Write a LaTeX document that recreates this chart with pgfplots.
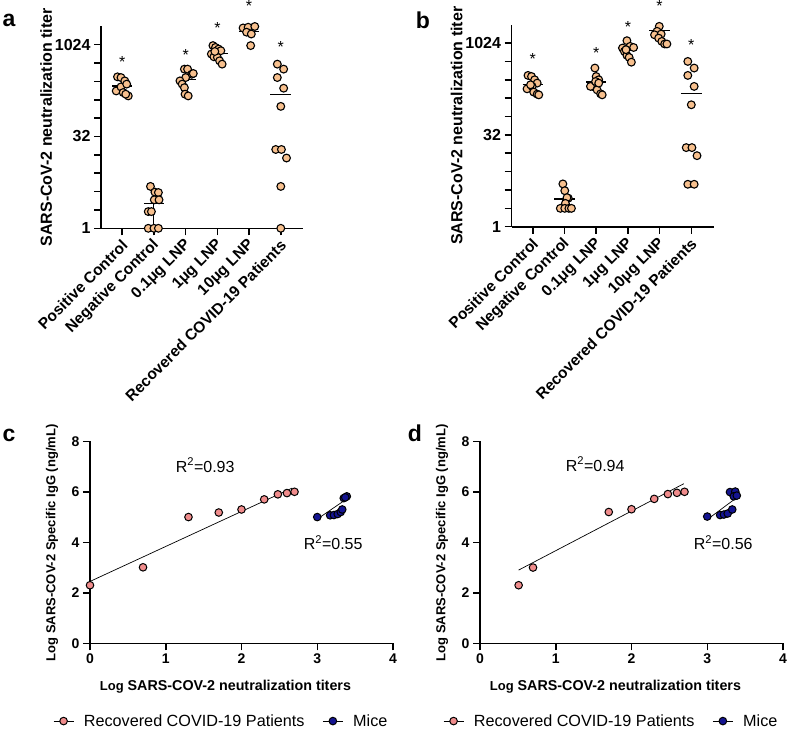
\documentclass[border=0pt]{standalone}
\usepackage{fontspec}
\setmainfont{Liberation Sans}
\usepackage{pgfplots}
\pgfplotsset{compat=1.18}
\definecolor{peach}{RGB}{247,192,142}
\definecolor{pinkc}{RGB}{240,140,140}
\definecolor{navyc}{RGB}{20,20,145}
\pgfplotsset{
  ptdots/.style={only marks, mark=*, mark size=3.9pt, mark options={fill=peach, draw=black, line width=1.1pt}},
  meanlines/.style={black, line width=1.4pt, unbounded coords=jump},
  pat/.style={only marks, mark=*, mark size=3.8pt, mark options={fill=pinkc, draw=black, line width=1pt}},
  mic/.style={only marks, mark=*, mark size=3.8pt, mark options={fill=navyc, draw=black, line width=1pt}},
}
\newcommand{\lgf}{\fontsize{16.2}{19}\selectfont}
\begin{document}
\begin{tikzpicture}
\useasboundingbox (0pt,0pt) rectangle (787pt,-730pt);
\node[font=\bfseries\fontsize{23}{23}\selectfont] at (9pt,-20pt) {a};
\node[font=\bfseries\fontsize{23}{23}\selectfont] at (423pt,-20pt) {b};
\node[font=\bfseries\fontsize{23}{23}\selectfont] at (9pt,-435pt) {c};
\node[font=\bfseries\fontsize{23}{23}\selectfont] at (415pt,-433pt) {d};
% ---------------- panel a
\begin{axis}[ymode=log, log basis y=2,
    scale only axis, width=202pt, height=202pt,
    axis lines=left, axis line style={line width=1.6pt,-},
    tick style={line width=1.5pt, black},
    tick align=outside, major tick length=7pt,
    xmin=-0.67, xmax=5.70, ymin=1, ymax=2048,
    ytick={1,2,4,8,16,32,64,128,256,512,1024}, yticklabels={1,,,,,32,,,,,1024},
    xtick={0,...,5},
    xticklabels={Positive Control, Negative Control, 0.1μg LNP, 1μg LNP, 10μg LNP, Recovered COVID-19 Patients},
    xticklabel style={xshift=5pt, yshift=-5pt, rotate=45, anchor=east, font=\bfseries\fontsize{15.5}{16}\selectfont},
    yticklabel style={font=\bfseries\fontsize{16}{16}\selectfont},
    clip=false,
    ylabel={SARS-CoV-2 neutralization titer},
    ylabel style={at={(axis description cs:-0.272,0.5)}, anchor=center, font=\bfseries\fontsize{16}{16}\selectfont},
    at={(101pt,-228.3pt)}, anchor=south west]
\addplot[black, line width=1pt] coordinates {(1,1) (1,4)};
\addplot[ptdots] coordinates {
(-0.15,304) (-0.04,296) (0.08,261) (-0.19,178.5) (-0.04,208) (0.14,231) (0.03,168) (0.19,148) (0.11,158)
(0.89,4.86) (1.03,3.92) (1.14,3.86) (1.01,2.93) (1.16,2.93) (0.82,1.88) (0.92,1.88) (0.82,1) (1.0,1) (1.14,1)
(1.96,407) (2.06,407) (2.19,335) (2.0,296) (1.82,261) (1.89,231) (1.96,202) (1.98,158) (2.08,148) (2.24,345)
(2.86,989) (2.94,923) (3.04,867) (3.11,815) (2.81,719) (2.89,648) (3.0,635) (3.07,557) (3.15,491) (2.92,792)
(3.81,1924) (3.97,1978) (4.18,2034) (3.92,1641) (4.07,1531) (4.05,989)
(4.89,491) (5.09,407) (4.89,296) (5.09,198) (5.0,99.7) (4.84,19.6) (5.02,19.6) (5.18,14.2) (5.0,4.86) (5.0,1)
};
\addplot[meanlines] coordinates {
(-0.32,216.7) (0.32,216.7) (0.5,nan) (0.68,2.53) (1.32,2.53) (1.5,nan)
(1.68,278) (2.32,278) (2.5,nan) (2.68,739) (3.32,739) (3.5,nan)
(3.68,1683) (4.32,1683) (4.5,nan) (4.67,155) (5.33,155)
};
\node[font=\fontsize{16}{16}\selectfont] at (axis cs:0,523) {*};
\node[font=\fontsize{16}{16}\selectfont] at (axis cs:2,699) {*};
\node[font=\fontsize{16}{16}\selectfont] at (axis cs:3,1911) {*};
\node[font=\fontsize{16}{16}\selectfont] at (axis cs:4,4390) {*};
\node[font=\fontsize{16}{16}\selectfont] at (axis cs:5,949) {*};
\end{axis}
% ---------------- panel b
\begin{axis}[ymode=log, log basis y=2,
    scale only axis, width=202pt, height=202pt,
    axis lines=left, axis line style={line width=1.6pt,-},
    tick style={line width=1.5pt, black},
    tick align=outside, major tick length=7pt,
    xmin=-0.67, xmax=5.70, ymin=1, ymax=2048,
    ytick={1,2,4,8,16,32,64,128,256,512,1024}, yticklabels={1,,,,,32,,,,,1024},
    xtick={0,...,5},
    xticklabels={Positive Control, Negative Control, 0.1μg LNP, 1μg LNP, 10μg LNP, Recovered COVID-19 Patients},
    xticklabel style={xshift=5pt, yshift=-5pt, rotate=45, anchor=east, font=\bfseries\fontsize{15.5}{16}\selectfont},
    yticklabel style={font=\bfseries\fontsize{16}{16}\selectfont},
    clip=false,
    ylabel={SARS-CoV-2 neutralization titer},
    ylabel style={at={(axis description cs:-0.272,0.5)}, anchor=center, font=\bfseries\fontsize{16}{16}\selectfont},
    at={(511.5pt,-226.7pt)}, anchor=south west]
\addplot[ptdots] coordinates {
(-0.15,302) (-0.04,290) (0.06,256) (0.14,226) (-0.18,182) (-0.02,199.5) (0.03,161) (0.14,149) (0.19,145) (-0.07,212)
(0.95,5.03) (1.01,3.89) (1.12,2.93) (1.08,2.99) (1.03,2.41) (0.87,2) (1.01,2) (1.14,2) (1.22,2)
(1.96,399) (2.0,290) (2.08,256) (1.89,199.5) (1.82,199.5) (2.03,175) (2.14,151) (2.19,145) (1.98,240) (2.08,226)
(2.97,1120) (3.07,904) (3.18,867) (2.83,849) (2.89,750) (2.97,644) (3.04,596) (3.11,498) (2.94,798)
(3.99,1924) (3.92,1596) (3.84,1399) (4.05,1438) (3.97,1235) (4.07,1090) (4.16,989) (4.23,989)
(4.89,512) (5.09,399) (4.89,302) (5.09,199.5) (5.0,99.7) (4.84,19.8) (5.02,19.8) (5.18,14.6) (4.89,4.96) (5.09,4.96)
};
\addplot[meanlines] coordinates {
(-0.32,212) (0.32,212) (0.5,nan) (0.68,2.85) (1.32,2.85) (1.5,nan)
(1.68,234) (2.32,234) (2.5,nan) (2.68,849) (3.32,849) (3.5,nan)
(3.68,1629) (4.32,1629) (4.5,nan) (4.67,154) (5.33,154)
};
\node[font=\fontsize{16}{16}\selectfont] at (axis cs:0,568) {*};
\node[font=\fontsize{16}{16}\selectfont] at (axis cs:2,699) {*};
\node[font=\fontsize{16}{16}\selectfont] at (axis cs:3,1846) {*};
\node[font=\fontsize{16}{16}\selectfont] at (axis cs:4,4211) {*};
\node[font=\fontsize{16}{16}\selectfont] at (axis cs:5,936) {*};
\end{axis}
% ---------------- panel c
\begin{axis}[
    scale only axis, width=303pt, height=202pt,
    axis lines=left, axis line style={line width=1.6pt,-},
    tick style={line width=1.5pt, black},
    tick align=outside, major tick length=7pt,
    xmin=0, xmax=4, ymin=0, ymax=8,
    xtick={0,...,4}, ytick={0,2,...,8},
    /pgf/number format/assume math mode=true,
    ticklabel style={font=\bfseries\fontsize{14}{14}\selectfont},
    clip=false,
    ylabel={Log SARS-COV-2 Specific IgG (ng/mL)},
    ylabel style={at={(axis description cs:-0.125,0.497)}, anchor=center, font=\bfseries\fontsize{13}{13}\selectfont},
    xlabel={{\fontsize{13}{13}\selectfont Log} SARS-COV-2 neutralization titers},
    xlabel style={at={(axis description cs:0.447,-0.216)}, anchor=center, font=\bfseries\fontsize{14.3}{15}\selectfont},
    legend columns=2,
    legend style={draw=none, fill=none, inner sep=0pt, nodes={inner sep=0pt},
      at={(axis description cs:-0.122,-0.385)}, anchor=west,
      /tikz/every odd column/.append style={column sep=10pt},
      /tikz/every even column/.append style={column sep=18pt}},
    legend image code/.code={\draw[black, line width=0.7pt] (0pt,0pt) -- (20pt,0pt); \draw[#1, mark repeat=1] plot coordinates {(10pt,0pt)};},
    at={(90pt,-643.3pt)}, anchor=south west]
\addplot[pat] coordinates {(0,2.30) (0.70,3.01) (1.30,5.0) (1.70,5.18) (2.0,5.30) (2.30,5.70) (2.48,5.90) (2.60,5.95) (2.70,6.0)};
\addlegendentry{\lgf Recovered COVID-19 Patients}
\addplot[mic] coordinates {(3.0,5.0) (3.17,5.07) (3.22,5.08) (3.27,5.12) (3.31,5.2) (3.33,5.3) (3.35,5.75) (3.39,5.82) (3.37,5.78)};
\addlegendentry{\lgf Mice}
\addplot[black, line width=0.7pt, forget plot] coordinates {(0,2.45) (2.67,6.15)};
\addplot[black, line width=0.7pt, forget plot] coordinates {(3.0,4.92) (3.38,5.7)};
\node[font=\fontsize{16}{16}\selectfont] at (axis cs:1.52,7.05) {R\textsuperscript{2}=0.93};
\node[font=\fontsize{16}{16}\selectfont] at (axis cs:3.21,3.98) {R\textsuperscript{2}=0.55};
\end{axis}
% ---------------- panel d
\begin{axis}[
    scale only axis, width=303pt, height=202pt,
    axis lines=left, axis line style={line width=1.6pt,-},
    tick style={line width=1.5pt, black},
    tick align=outside, major tick length=7pt,
    xmin=0, xmax=4, ymin=0, ymax=8,
    xtick={0,...,4}, ytick={0,2,...,8},
    /pgf/number format/assume math mode=true,
    ticklabel style={font=\bfseries\fontsize{14}{14}\selectfont},
    clip=false,
    ylabel={Log SARS-COV-2 Specific IgG (ng/mL)},
    ylabel style={at={(axis description cs:-0.125,0.497)}, anchor=center, font=\bfseries\fontsize{13}{13}\selectfont},
    xlabel={{\fontsize{13}{13}\selectfont Log} SARS-COV-2 neutralization titers},
    xlabel style={at={(axis description cs:0.447,-0.216)}, anchor=center, font=\bfseries\fontsize{14.3}{15}\selectfont},
    legend columns=2,
    legend style={draw=none, fill=none, inner sep=0pt, nodes={inner sep=0pt},
      at={(axis description cs:-0.122,-0.385)}, anchor=west,
      /tikz/every odd column/.append style={column sep=10pt},
      /tikz/every even column/.append style={column sep=18pt}},
    legend image code/.code={\draw[black, line width=0.7pt] (0pt,0pt) -- (20pt,0pt); \draw[#1, mark repeat=1] plot coordinates {(10pt,0pt)};},
    at={(480pt,-643.3pt)}, anchor=south west]
\addplot[pat] coordinates {(0.51,2.30) (0.70,3.0) (1.70,5.20) (2.0,5.31) (2.30,5.72) (2.48,5.91) (2.60,5.96) (2.70,6.0)};
\addlegendentry{\lgf Recovered COVID-19 Patients}
\addplot[mic] coordinates {(3.0,5.02) (3.17,5.08) (3.22,5.1) (3.27,5.14) (3.33,5.3) (3.30,5.99) (3.37,6.01) (3.35,5.82) (3.39,5.85)};
\addlegendentry{\lgf Mice}
\addplot[black, line width=0.7pt, forget plot] coordinates {(0.51,2.90) (2.69,6.32)};
\addplot[black, line width=0.7pt, forget plot] coordinates {(3.0,4.9) (3.38,5.75)};
\node[font=\fontsize{16}{16}\selectfont] at (axis cs:1.52,7.09) {R\textsuperscript{2}=0.94};
\node[font=\fontsize{16}{16}\selectfont] at (axis cs:3.21,4.0) {R\textsuperscript{2}=0.56};
\end{axis}
\end{tikzpicture}
\end{document}
